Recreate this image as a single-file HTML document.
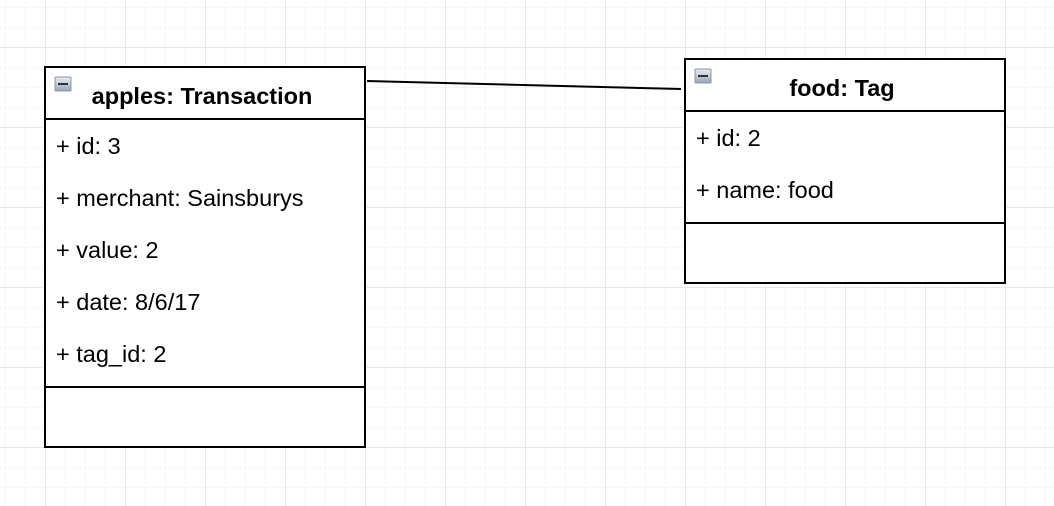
<!DOCTYPE html>
<html><head><style>
html,body{margin:0;padding:0;width:1054px;height:506px;overflow:hidden;background:#fff}
</style></head><body>
<svg width="1054" height="506" xmlns="http://www.w3.org/2000/svg" font-family="Liberation Sans, Arial, sans-serif">
<defs>
<pattern id="minor" x="5" y="7" width="20" height="20" patternUnits="userSpaceOnUse">
<path d="M0 0.5H20M0.5 0V20" stroke="#f5f5f5" stroke-width="1" fill="none"/>
</pattern>
<pattern id="major" x="45" y="47" width="80" height="80" patternUnits="userSpaceOnUse">
<path d="M0 0.5H80M0.5 0V80" stroke="#e8e8e8" stroke-width="1" fill="none"/>
</pattern>
<linearGradient id="ic" x1="0" y1="0" x2="0" y2="1"><stop offset="0" stop-color="#e8eef5"/><stop offset="1" stop-color="#9aa6b3"/></linearGradient>
</defs>
<rect width="1054" height="506" fill="url(#minor)"/>
<rect width="1054" height="506" fill="url(#major)"/>
<line x1="367" y1="81" x2="681" y2="89" stroke="#000" stroke-width="2"/>
<!-- Transaction -->
<rect x="45" y="67" width="320" height="380" fill="#fff" stroke="#000" stroke-width="2"/>
<line x1="45" y1="119" x2="365" y2="119" stroke="#000" stroke-width="2"/>
<line x1="45" y1="387" x2="365" y2="387" stroke="#000" stroke-width="2"/>
<rect x="55" y="77" width="16" height="14" rx="1" fill="url(#ic)" stroke="#8a96a3"/>
<rect x="58" y="83" width="10" height="2" fill="#333"/>
<text x="202" y="104" font-size="23.5" font-weight="bold" text-anchor="middle">apples: Transaction</text>
<g font-size="23.5">
<text x="56" y="154">+ id: 3</text>
<text x="56" y="206">+ merchant: Sainsburys</text>
<text x="56" y="258">+ value: 2</text>
<text x="56" y="310">+ date: 8/6/17</text>
<text x="56" y="362">+ tag_id: 2</text>
</g>
<!-- Tag -->
<rect x="685" y="59" width="320" height="224" fill="#fff" stroke="#000" stroke-width="2"/>
<line x1="685" y1="111" x2="1005" y2="111" stroke="#000" stroke-width="2"/>
<line x1="685" y1="223" x2="1005" y2="223" stroke="#000" stroke-width="2"/>
<rect x="695" y="69" width="16" height="14" rx="1" fill="url(#ic)" stroke="#8a96a3"/>
<rect x="698" y="75" width="10" height="2" fill="#333"/>
<text x="842" y="96" font-size="23.5" font-weight="bold" text-anchor="middle">food: Tag</text>
<g font-size="23.5">
<text x="696" y="146">+ id: 2</text>
<text x="696" y="198">+ name: food</text>
</g>
</svg>
</body></html>
